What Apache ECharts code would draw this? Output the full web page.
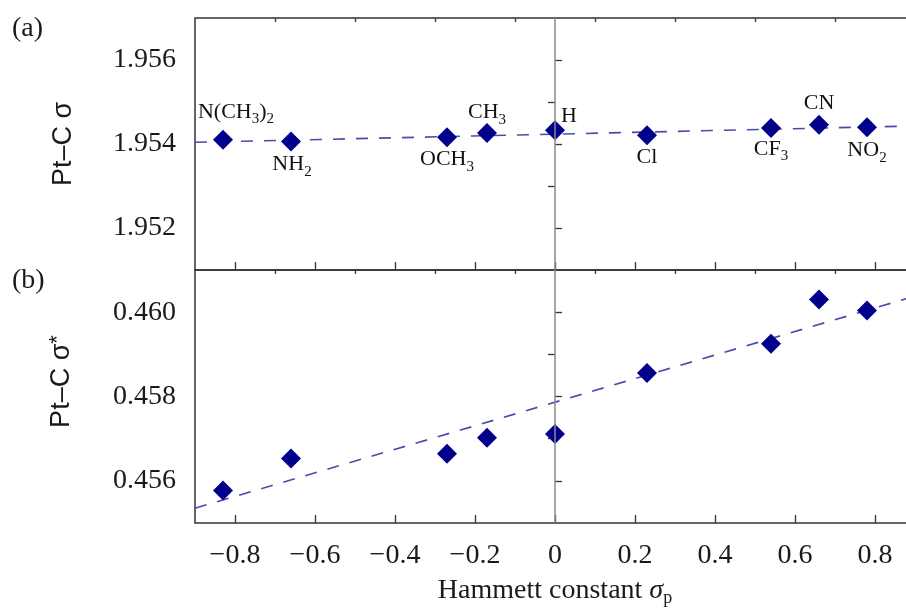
<!DOCTYPE html>
<html>
<head>
<meta charset="utf-8">
<script src="https://cdn.jsdelivr.net/npm/echarts@6/dist/echarts.min.js"></script>
<style>
  html, body { margin: 0; padding: 0; background: #fff; overflow: hidden; }
  #chart { width: 918px; height: 611px; }
</style>
</head>
<body>
<div id="chart"></div>
<script>
// Hammett constants and substituents
var sigmaP = [-0.83, -0.66, -0.27, -0.17, 0, 0.23, 0.54, 0.66, 0.78];
var substituents = ['N(CH3)2', 'NH2', 'OCH3', 'CH3', 'H', 'Cl', 'CF3', 'CN', 'NO2'];

// (a) Pt-C sigma
var ptcSigma = [1.95410, 1.95406, 1.95416, 1.95426, 1.95433, 1.95421, 1.95438, 1.95446, 1.95440];
// (b) Pt-C sigma*
var ptcSigmaStar = [0.45577, 0.45653, 0.45664, 0.45702, 0.45711, 0.45856, 0.45925, 0.46030, 0.46004];

// fitted lines (end points)
var fitX = [-0.9, 0.9];
var fitSigma = [1.95404, 1.95443];
var fitSigmaStar = [0.45535, 0.46038];

// tick values
var xMajor = [-0.8, -0.6, -0.4, -0.2, 0, 0.2, 0.4, 0.6, 0.8];
var xMinor = [-0.7, -0.5, -0.3, -0.1, 0.1, 0.3, 0.5, 0.7];
var yMajorA = [1.952, 1.954, 1.956];
var yMinorA = [1.953, 1.955];
var yMajorB = [0.456, 0.458, 0.460];
var yMinorB = [0.457, 0.459];

// label offsets in panel (a), [dx, dy]
var labelOffsets = [[13, -28], [1, 23], [0, 22], [0, -21], [14, -14], [0, 22], [0, 21], [0, -21], [0, 23]];

var SERIF = 'Liberation Serif';
var DIAMOND = '#00008b';
var FIT = '#4b4bab';

function pairs(xs, ys) {
	return xs.map(function (x, i) { return [x, ys[i]]; });
}

function fmtX(v) {
	if (Math.abs(v) < 1e-9) return '0';
	return v < 0 ? '\u2212' + Math.abs(v).toFixed(1) : v.toFixed(1);
}

function xAxisFor(gridIndex, values, len, showLabels) {
	return {
		type: 'value', gridIndex: gridIndex, min: -0.9, max: 0.9,
		axisLine: { show: false },
		splitLine: { show: false },
		axisTick: { show: true, inside: true, length: len, customValues: values,
			lineStyle: { color: '#333', width: 1.3 } },
		axisLabel: { show: showLabels, customValues: values, formatter: fmtX, margin: 19,
			fontFamily: SERIF, fontSize: 28, color: '#1a1a1a' }
	};
}

function yAxisFor(gridIndex, min, max, values, len, showLabels) {
	return {
		type: 'value', gridIndex: gridIndex, min: min, max: max,
		axisLine: { show: false },
		splitLine: { show: false },
		axisTick: { show: true, inside: true, length: len, customValues: values,
			lineStyle: { color: '#333', width: 1.3 } },
		axisLabel: { show: showLabels, customValues: values, margin: 19,
			formatter: function (v) { return v.toFixed(3); },
			fontFamily: SERIF, fontSize: 28, color: '#1a1a1a' }
	};
}

var chart = echarts.init(document.getElementById('chart'), null, { renderer: 'canvas' });

var xAxes = [
	xAxisFor(0, xMajor, 8, false),
	xAxisFor(0, xMinor, 4, false),
	xAxisFor(1, xMajor, 8, true),
	xAxisFor(1, xMinor, 4, false)
];
xAxes[2].name = '{n|Hammett constant }{i|σ}{s|p}';
xAxes[2].nameLocation = 'middle';
xAxes[2].nameGap = 52;
xAxes[2].nameTextStyle = {
	rich: {
		n: { fontFamily: SERIF, fontSize: 28, color: '#1a1a1a', lineHeight: 32 },
		i: { fontFamily: SERIF, fontSize: 28, fontStyle: 'italic', color: '#1a1a1a', lineHeight: 32 },
		s: { fontFamily: SERIF, fontSize: 18, color: '#1a1a1a', lineHeight: 12, verticalAlign: 'bottom' }
	}
};

var yAxes = [
	yAxisFor(0, 1.951, 1.957, yMajorA, 7, true),
	yAxisFor(0, 1.951, 1.957, yMinorA, 7, false),
	yAxisFor(1, 0.455, 0.461, yMajorB, 7, true),
	yAxisFor(1, 0.455, 0.461, yMinorB, 7, false)
];
yAxes[0].name = 'Pt\u2013C σ';
yAxes[0].nameLocation = 'middle';
yAxes[0].nameGap = 118;
yAxes[0].nameTextStyle = { fontFamily: 'Liberation Sans', fontSize: 27, color: '#1a1a1a' };
yAxes[2].name = '{n|Pt\u2013C σ}{p|*}';
yAxes[2].nameLocation = 'middle';
yAxes[2].nameGap = 118;
yAxes[2].nameTextStyle = {
	padding: [0, 0, 0, 30],
	rich: {
		n: { fontFamily: 'Liberation Sans', fontSize: 27, color: '#1a1a1a', lineHeight: 30 },
		p: { fontFamily: 'Liberation Sans', fontSize: 22, color: '#1a1a1a', lineHeight: 14, verticalAlign: 'top' }
	}
};

var zeroLine = {
	silent: true, symbol: 'none', animation: false,
	label: { show: false },
	lineStyle: { color: '#8a8a8a', type: 'solid', width: 1.5 },
	data: [{ xAxis: 0 }]
};

var topPoints = sigmaP.map(function (x, i) {
	return {
		value: [x, ptcSigma[i]],
		label: {
			formatter: substituents[i].replace(/(\d)/g, '{s|$1}'),
			offset: labelOffsets[i]
		}
	};
});

chart.setOption({
	animation: false,
	grid: [
		{ left: 195, top: 18, width: 720, height: 252, show: true, borderColor: '#333', borderWidth: 1.5 },
		{ left: 195, top: 270, width: 720, height: 253, show: true, borderColor: '#333', borderWidth: 1.5 }
	],
	graphic: [
		{ type: 'text', left: 12, top: 15, style: { text: '(a)', font: '28px "Liberation Serif"', fill: '#1a1a1a' } },
		{ type: 'text', left: 12, top: 267, style: { text: '(b)', font: '28px "Liberation Serif"', fill: '#1a1a1a' } }
	],
	xAxis: xAxes,
	yAxis: yAxes,
	series: [
		{
			type: 'line', xAxisIndex: 0, yAxisIndex: 0, z: 2,
			data: pairs(fitX, fitSigma), symbol: 'none',
			lineStyle: { color: FIT, width: 1.6, type: [12, 11] },
			markLine: zeroLine
		},
		{
			type: 'scatter', xAxisIndex: 0, yAxisIndex: 0, z: 4,
			symbol: 'diamond', symbolSize: [20, 20],
			itemStyle: { color: DIAMOND, opacity: 1 },
			label: {
				show: true, position: 'inside',
				fontFamily: SERIF, fontSize: 22, color: '#111', lineHeight: 30,
				rich: { s: { fontFamily: SERIF, fontSize: 15, color: '#111', lineHeight: 14, verticalAlign: 'bottom' } }
			},
			data: topPoints
		},
		{
			type: 'line', xAxisIndex: 2, yAxisIndex: 2, z: 2,
			data: pairs(fitX, fitSigmaStar), symbol: 'none',
			lineStyle: { color: FIT, width: 1.6, type: [12, 11] },
			markLine: zeroLine
		},
		{
			type: 'scatter', xAxisIndex: 2, yAxisIndex: 2, z: 4,
			symbol: 'diamond', symbolSize: [20, 20],
			itemStyle: { color: DIAMOND, opacity: 1 },
			data: pairs(sigmaP, ptcSigmaStar)
		}
	]
});
</script>
</body>
</html>
